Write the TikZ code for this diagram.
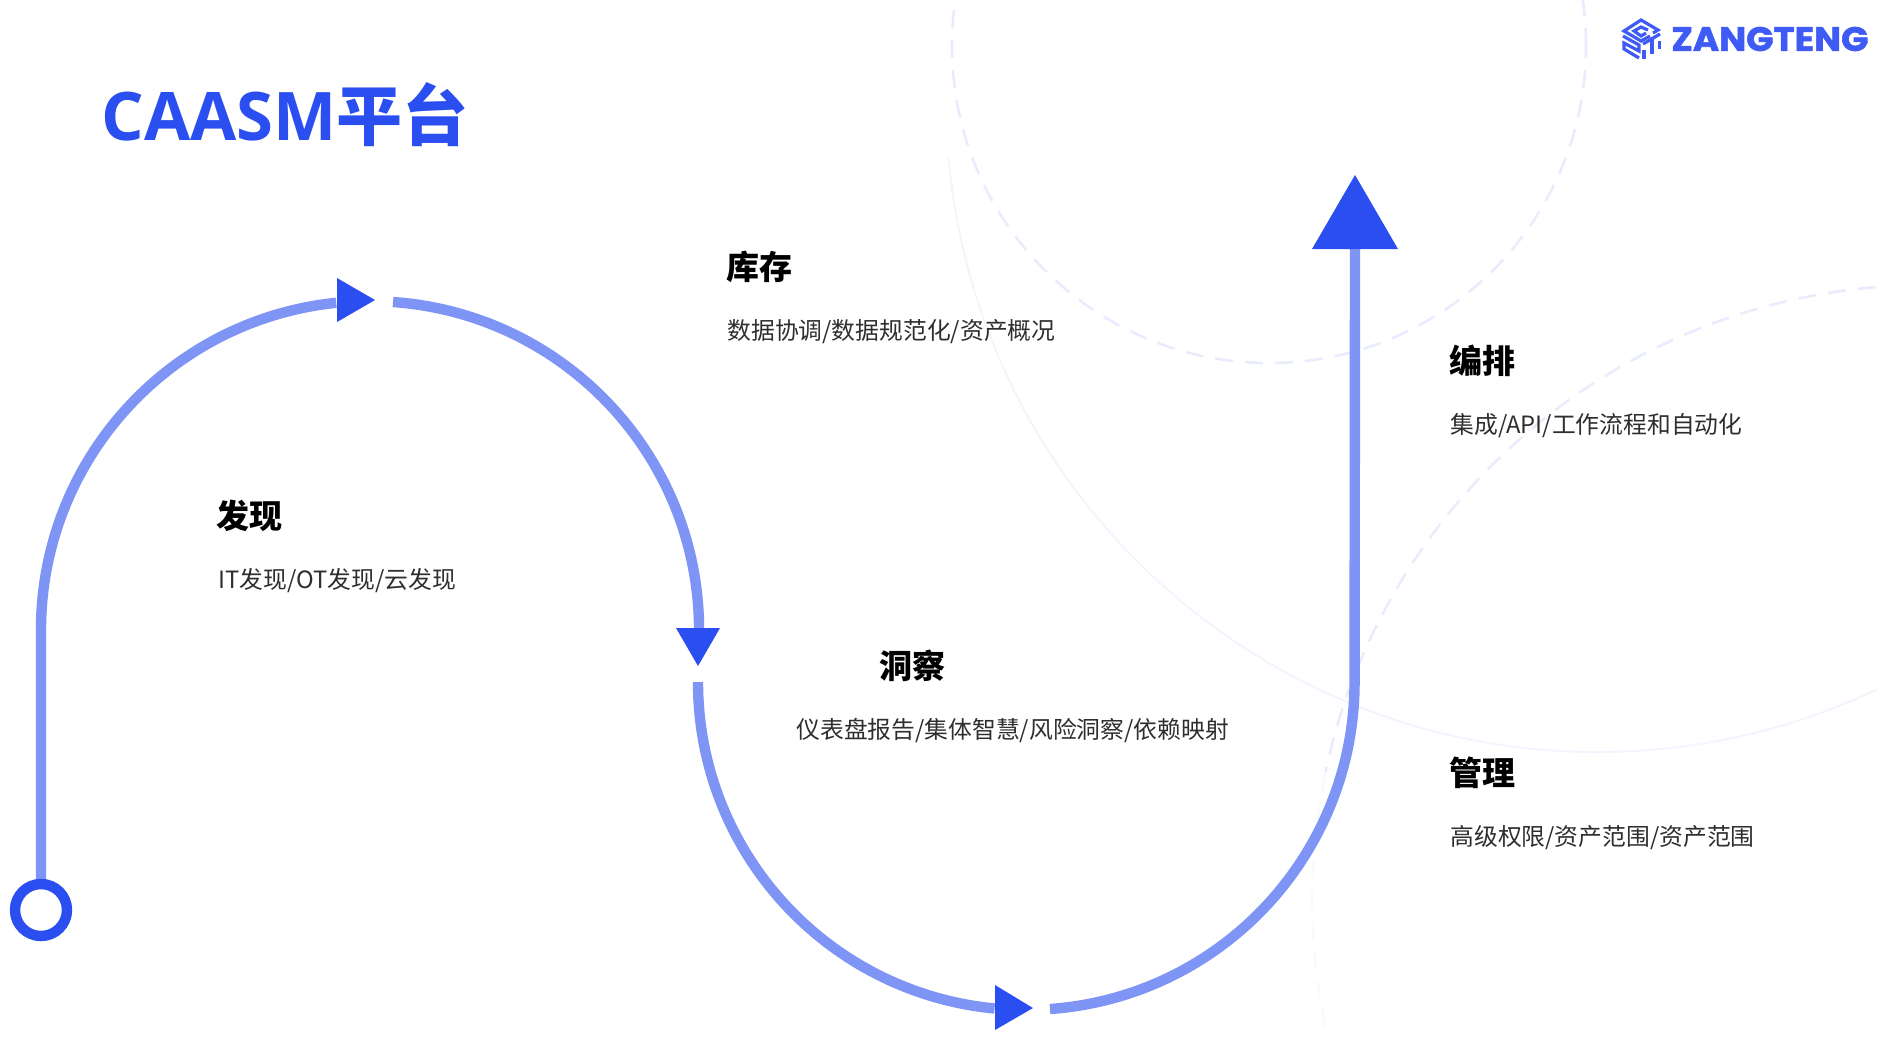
\documentclass[tikz,border=0pt]{standalone}
\usepackage{fontspec}
\usepackage{graphicx}
\setmainfont{Noto Sans CJK SC}
\newfontfamily\logofont[BoldFeatures={FakeBold=1.6}]{Poppins}
\newfontfamily\latintitle{Open Sans}
\definecolor{pathblue}{HTML}{7F95F6}
\definecolor{headblue}{HTML}{2A4EEF}
\definecolor{logoblue}{HTML}{3F5BF5}
\definecolor{faintdash}{HTML}{E9ECFC}
\definecolor{faintline}{HTML}{F3F5FE}
\definecolor{fainter}{HTML}{F8F9FE}
\definecolor{bodytext}{HTML}{2E2E2E}
\tikzset{
  route/.style={draw=pathblue,line width=5.2pt},
  head/.style={fill=headblue,draw=none},
  titletext/.style={anchor=west,inner sep=0pt,text=headblue,font=\fontsize{33}{36}\selectfont\bfseries},
  heading/.style={anchor=west,inner sep=0pt,text=black,font=\fontsize{16.5}{17}\selectfont\bfseries},
  detail/.style={anchor=west,inner sep=0pt,text=bodytext,font=\fontsize{11.9}{13}\selectfont},
  logostroke/.style={draw=logoblue,line width=1.6pt,miter limit=10},
}
\begin{document}
\begin{tikzpicture}[x=0.5pt,y=-0.5pt]
\useasboundingbox (0,0) rectangle (1877,1046);
\begin{scope}
\clip (0,0) rectangle (1877,1046);
% faint background circles
\draw[faintdash,line width=1.3pt,dash pattern=on 9pt off 6pt] (1269,46) circle[radius=158.5pt];
\draw[faintline,line width=1pt] (1598,100) ++(185:326pt) arc[start angle=185,end angle=345,radius=326pt];
\draw[faintdash,line width=1.3pt,dash pattern=on 9pt off 6pt] (1927,900) ++(92:307.5pt) arc[start angle=92,end angle=168,radius=307.5pt] coordinate (fd);
\draw[fainter,line width=1pt,dash pattern=on 9pt off 6pt] (fd) arc[start angle=168,end angle=192,radius=307.5pt];
\end{scope}
% route anchors
\coordinate (start) at (41,910);
\coordinate (a1) at (41,630);
\coordinate (a2) at (393,302);
\coordinate (a3) at (698,682);
\coordinate (a4) at (1050,1009);
\coordinate (top) at (1355,249);
% route
\draw[route] (start) -- (a1) arc[start angle=180,end angle=95.9,radius=164.5pt];
\draw[route] (a2) arc[start angle=86,end angle=0,radius=164.5pt];
\draw[route] (a3) arc[start angle=180,end angle=264.5,radius=164pt];
\draw[route] (a4) arc[start angle=274.1,end angle=360,radius=164pt] -- (top);
% start ring
\node[circle,draw=headblue,fill=white,line width=5.2pt,minimum size=26pt,inner sep=0pt] (ring) at (start) {};
% arrow heads
\fill[head] (337,278) -- (375,300) -- (337,322) -- cycle;
\fill[head] (676,628) -- (720,628) -- (698,666) -- cycle;
\fill[head] (995,985) -- (1033,1008) -- (995,1030) -- cycle;
\fill[head] (1312,249) -- (1355,175) -- (1398,249) -- cycle;
% title
\node[titletext] (title) at (101,115) {{\latintitle\fontsize{33.5}{36}\selectfont\bfseries CAASM}平台};
% labels
\node[heading] (h1) at (216,515.5) {发现};
\node[detail] (d1) at (218,581) {IT发现/OT发现/云发现};
\node[heading] (h2) at (726,266.5) {库存};
\node[detail] (d2) at (727,332) {数据协调/数据规范化/资产概况};
\node[heading] (h3) at (879,665.5) {洞察};
\node[detail] (d3) at (796,730) {仪表盘报告/集体智慧/风险洞察/依赖映射};
\node[heading] (h4) at (1449,361) {编排};
\node[detail] (d4) at (1450,426) {集成/API/工作流程和自动化};
\node[heading] (h5) at (1449,773) {管理};
\node[detail] (d5) at (1450,838) {高级权限/资产范围/资产范围};
% logo
\node[anchor=west,inner sep=0pt,text=logoblue] (logotext) at (1671,39) {\resizebox{98.5pt}{12pt}{\logofont\bfseries ZANGTENG}};
\draw[logostroke] (1650,36) -- (1641,41) -- (1624,31) -- (1641,20) -- (1658,30) -- (1653,33);
\draw[logostroke] (1646,33) -- (1641,36) -- (1634,31) -- (1641,27) -- (1648,30);
\draw[logostroke] (1623,36) -- (1639,45) -- (1639,51) -- (1624,43) -- (1624,49) -- (1639,58);
\draw[logostroke] (1643,44) -- (1660,34);
\draw[logostroke] (1652,39) -- (1652,54);
\draw[logostroke] (1644,50) -- (1644,59);
\draw[logostroke] (1659.5,41) -- (1659.5,49);
\end{tikzpicture}
\end{document}
